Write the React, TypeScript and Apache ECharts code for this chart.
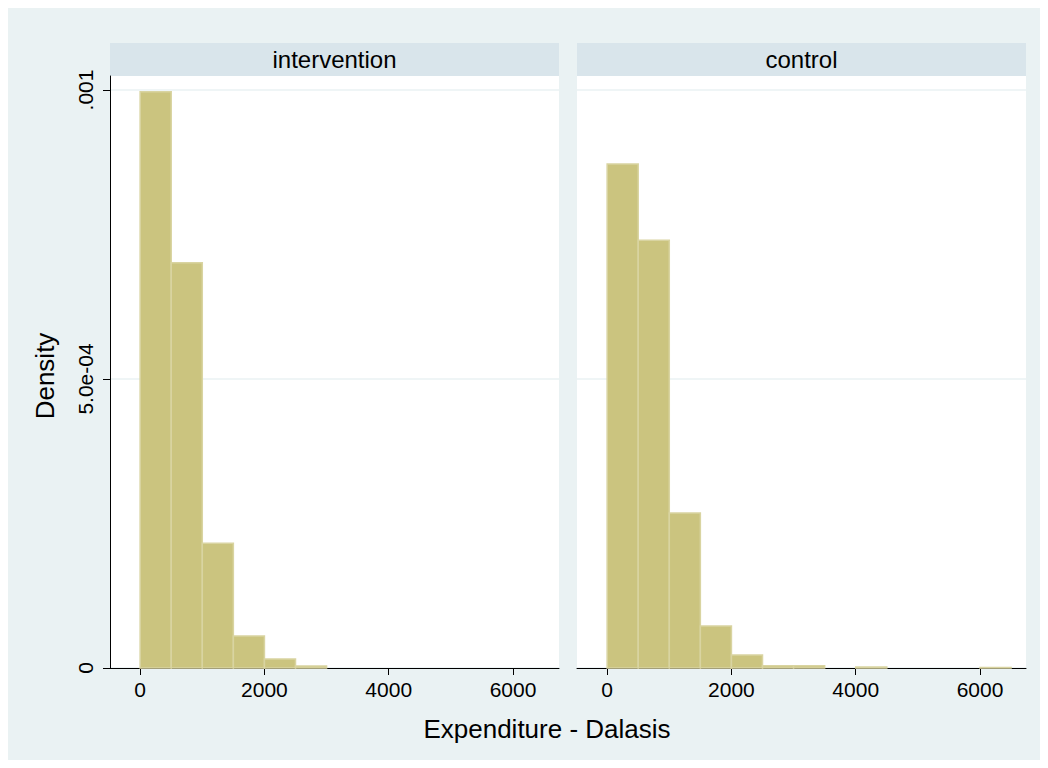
import React, { useEffect, useRef } from "react";
import * as echarts from "echarts";

const BIN_WIDTH = 500;
const binStarts = [0, 500, 1000, 1500, 2000, 2500, 3000, 3500, 4000, 4500, 5000, 5500, 6000];
const interventionDensity = [0.000997, 0.000701, 0.000216, 0.0000554, 0.0000156, 0.0000035, 0, 0, 0, 0, 0, 0, 0];
const controlDensity = [0.000872, 0.00074, 0.000268, 0.0000727, 0.0000225, 0.000004, 0.000004, 0, 0.0000017, 0, 0, 0, 0.000001];
const panelTitles = ["intervention", "control"];
const xTicks = [0, 2000, 4000, 6000];
const yTicks = [0, 0.0005, 0.001];
const yTickLabels: Record<string, string> = { "0": "0", "0.0005": "5.0e-04", "0.001": ".001" };
const xTitle = "Expenditure - Dalasis";
const yTitle = "Density";

const FONT = "'Liberation Sans', Arial, Helvetica, sans-serif";
const BG = "#EAF2F3";
const STRIP = "#D9E5EB";
const BAR_FILL = "#CBC47F";
const BAR_EDGE = "#D9D4A1";

const X_MIN = -485;
const X_MAX = 6740;
const Y_MAX = 0.0010242;

const gridTop = 68;
const gridHeight = 592;
const gridW = 449;
const gridLefts = [102, 569];

function buildData(vals: number[]) {
  return binStarts
    .map((s, i) => [s, s + BIN_WIDTH, vals[i]])
    .filter((d) => d[2] > 0);
}

export default function App() {
  const ref = useRef<HTMLDivElement>(null);
  useEffect(() => {
    if (!ref.current) return;
    const chart = echarts.init(ref.current, null, { renderer: "svg" });
    const renderItem = (params: any, api: any) => {
      const x0 = api.value(0);
      const x1 = api.value(1);
      const y = api.value(2);
      const p0 = api.coord([x0, y]);
      const p1 = api.coord([x1, 0]);
      return {
        type: "rect",
        shape: { x: p0[0], y: p0[1], width: p1[0] - p0[0], height: p1[1] - p0[1] },
        style: { fill: BAR_FILL, stroke: BAR_EDGE, lineWidth: 1.5 },
      };
    };
    const grids = gridLefts.map((l) => ({ left: l, top: gridTop, width: gridW, height: gridHeight, backgroundColor: "#ffffff", show: true, borderWidth: 0 }));
    const xAxes = [0, 1].map((i) => ({
      type: "value",
      gridIndex: i,
      min: X_MIN,
      max: X_MAX,
      axisLine: { show: true, onZero: false, lineStyle: { color: "#000", width: 1 } },
      axisTick: { show: true, length: 7, customValues: xTicks, lineStyle: { color: "#000", width: 1 } },
      axisLabel: {
        customValues: xTicks,
        fontFamily: FONT,
        fontSize: 21,
        color: "#000",
        margin: 11,
        formatter: (v: number) => String(v),
      },
      splitLine: { show: false },
    }));
    const yAxes = [0, 1].map((i) => ({
      type: "value",
      gridIndex: i,
      min: 0,
      max: Y_MAX,
      interval: 0.0005,
      axisLine: { show: i === 0, onZero: false, lineStyle: { color: "#000", width: 1 } },
      axisTick: { show: i === 0, length: 7, customValues: yTicks, lineStyle: { color: "#000", width: 1 } },
      axisLabel: {
        show: i === 0,
        customValues: yTicks,
        rotate: 90,
        fontFamily: FONT,
        fontSize: 21,
        color: "#000",
        margin: 14,
        formatter: (v: number) => yTickLabels[String(v)] ?? String(v),
      },
      splitLine: { show: true, lineStyle: { color: BG, width: 1.5 } },
    }));
    const series = [interventionDensity, controlDensity].map((vals, i) => ({
      type: "custom",
      xAxisIndex: i,
      yAxisIndex: i,
      renderItem,
      data: buildData(vals),
      encode: { x: [0, 1], y: 2 },
      silent: true,
    }));
    const graphic: any[] = [];
    gridLefts.forEach((l, i) => {
      graphic.push({ type: "rect", left: l, top: 35, shape: { width: gridW, height: 33 }, style: { fill: STRIP } });
      graphic.push({
        type: "text",
        x: l + gridW / 2,
        y: 51.5,
        style: { text: panelTitles[i], fontFamily: FONT, fontSize: 24, fill: "#000", align: "center", verticalAlign: "middle" },
      });
    });
    graphic.push({
      type: "text",
      x: 37,
      y: 368,
      rotation: Math.PI / 2,
      style: { text: yTitle, fontFamily: FONT, fontSize: 26, fill: "#000", align: "center", verticalAlign: "middle" },
    });
    graphic.push({
      type: "text",
      x: 539,
      y: 721,
      style: { text: xTitle, fontFamily: FONT, fontSize: 26, fill: "#000", align: "center", verticalAlign: "middle" },
    });
    chart.setOption({
      animation: false,
      backgroundColor: BG,
      grid: grids,
      xAxis: xAxes,
      yAxis: yAxes,
      series,
      graphic,
    });
    return () => chart.dispose();
  }, []);
  return <div ref={ref} style={{ width: 1032, height: 752 }} />;
}
